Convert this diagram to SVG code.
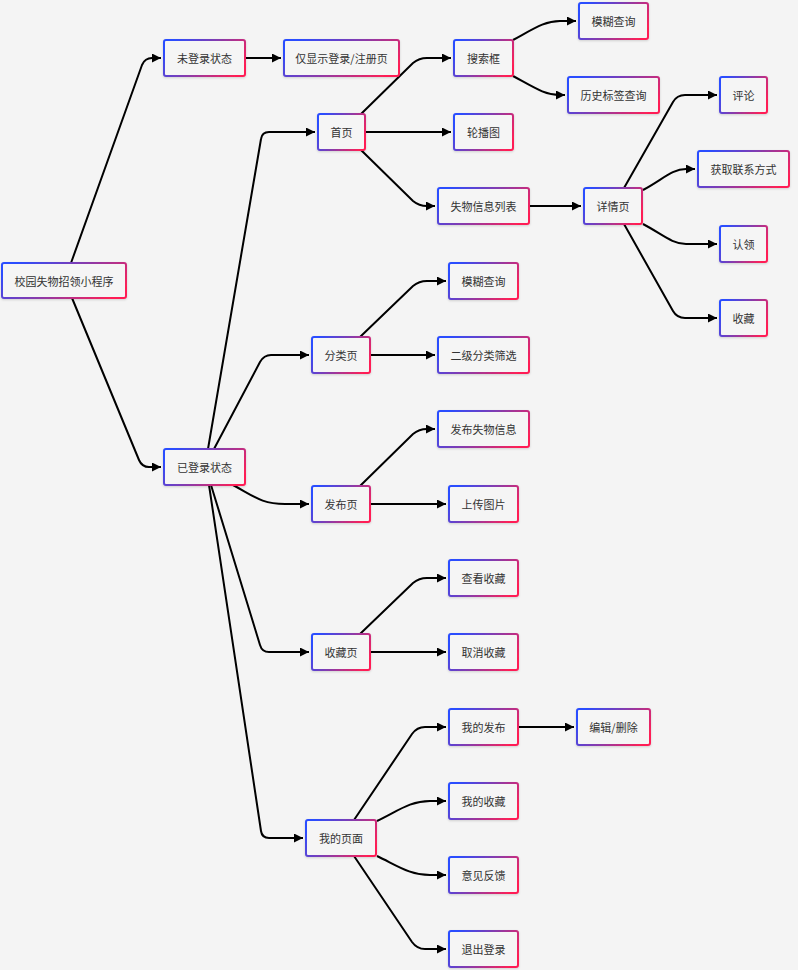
<svg xmlns="http://www.w3.org/2000/svg" width="798" height="970" viewBox="0 0 798 970">
<defs>
<linearGradient id="bd" x1="0" y1="0.3" x2="1" y2="0.7">
<stop offset="0" stop-color="#2a4dff"/>
<stop offset="0.5" stop-color="#8b3aa9"/>
<stop offset="1" stop-color="#ff1f55"/>
</linearGradient>
<filter id="sh" x="-10%" y="-20%" width="120%" height="150%">
<feDropShadow dx="0" dy="1" stdDeviation="1" flood-color="#000" flood-opacity="0.15"/>
</filter>
<marker id="ah" viewBox="0 0 10 10" refX="10" refY="5" markerWidth="9" markerHeight="9" markerUnits="userSpaceOnUse" orient="auto">
<path d="M0,0 L10,5 L0,10 z" fill="#000"/>
</marker>
<style>
.n rect{fill:#f5f5f5;stroke:url(#bd);stroke-width:2;filter:url(#sh)}
.n text{font-family:"Noto Sans CJK SC","Noto Sans",sans-serif;font-size:11px;fill:#333;text-anchor:middle;dominant-baseline:central}
.e path{fill:none;stroke:#000;stroke-width:2;marker-end:url(#ah)}
</style>
</defs>
<rect x="0" y="0" width="798" height="970" fill="#f4f4f4"/>
<g id="edges" class="e">
<path d="M71,263 L142,65 Q145,58 152,58 L161,58"/>
<path d="M72,298 L139,460 Q142,467 149,467 L161,467"/>
<path d="M245,58 L281,58"/>
<path d="M208,449 L261,139 Q262,132 269,132 L315,132"/>
<path d="M214,449 L260,362 Q264,355 271,355 L309,355"/>
<path d="M233,485 C255,497 262,504 285,504 L309,504"/>
<path d="M211,485 L260,645 Q262,652 269,652 L309,652"/>
<path d="M209,485 L261,831 Q262,838 269,838 L303,838"/>
<path d="M361,114 L413,63 Q419,58 427,58 L451,58"/>
<path d="M365,132 L451,132"/>
<path d="M361,150 L413,201 Q419,206 427,206 L435,206"/>
<path d="M513,40 C535,28 545,21 560,21 L576,21"/>
<path d="M513,76 C535,88 545,95 560,95 L565,95"/>
<path d="M529,206 L581,206"/>
<path d="M624,188 L673,102 Q677,95 685,95 L717,95"/>
<path d="M643,190 C662,180 672,169 686,169 L695,169"/>
<path d="M643,224 C662,234 672,244 686,244 L717,244"/>
<path d="M624,224 L673,311 Q677,318 685,318 L717,318"/>
<path d="M360,337 L413,286 Q419,281 427,281 L446,281"/>
<path d="M370,355 L435,355"/>
<path d="M360,486 L413,434 Q419,429 427,429 L435,429"/>
<path d="M370,504 L446,504"/>
<path d="M360,634 L413,583 Q419,578 427,578 L446,578"/>
<path d="M370,652 L446,652"/>
<path d="M354,820 L412,734 Q417,727 425,727 L446,727"/>
<path d="M377,821 C398,811 410,801 430,801 L446,801"/>
<path d="M377,856 C398,866 410,875 430,875 L446,875"/>
<path d="M354,856 L412,942 Q417,949 425,949 L446,949"/>
<path d="M518,727 L574,727"/>
</g>
<g id="n0" class="n"><rect x="2" y="263" width="124" height="35" rx="2"/><text x="64" y="280.5">校园失物招领小程序</text></g>
<g id="n1" class="n"><rect x="164" y="40" width="81" height="36" rx="2"/><text x="204.5" y="58">未登录状态</text></g>
<g id="n2" class="n"><rect x="284" y="40" width="115" height="36" rx="2"/><text x="341.5" y="58">仅显示登录/注册页</text></g>
<g id="n3" class="n"><rect x="164" y="449" width="81" height="36" rx="2"/><text x="204.5" y="467">已登录状态</text></g>
<g id="n4" class="n"><rect x="318" y="114" width="47" height="36" rx="2"/><text x="341.5" y="132">首页</text></g>
<g id="n5" class="n"><rect x="312" y="337" width="58" height="36" rx="2"/><text x="341" y="355">分类页</text></g>
<g id="n6" class="n"><rect x="312" y="486" width="58" height="36" rx="2"/><text x="341" y="504">发布页</text></g>
<g id="n7" class="n"><rect x="312" y="634" width="58" height="36" rx="2"/><text x="341" y="652">收藏页</text></g>
<g id="n8" class="n"><rect x="306" y="820" width="70" height="36" rx="2"/><text x="341" y="838">我的页面</text></g>
<g id="n9" class="n"><rect x="454" y="40" width="59" height="36" rx="2"/><text x="483.5" y="58">搜索框</text></g>
<g id="n10" class="n"><rect x="454" y="114" width="59" height="36" rx="2"/><text x="483.5" y="132">轮播图</text></g>
<g id="n11" class="n"><rect x="438" y="188" width="91" height="36" rx="2"/><text x="483.5" y="206">失物信息列表</text></g>
<g id="n12" class="n"><rect x="579" y="3" width="69" height="36" rx="2"/><text x="613.5" y="21">模糊查询</text></g>
<g id="n13" class="n"><rect x="568" y="77" width="91" height="36" rx="2"/><text x="613.5" y="95">历史标签查询</text></g>
<g id="n14" class="n"><rect x="584" y="188" width="58" height="36" rx="2"/><text x="613" y="206">详情页</text></g>
<g id="n15" class="n"><rect x="720" y="77" width="47" height="36" rx="2"/><text x="743.5" y="95">评论</text></g>
<g id="n16" class="n"><rect x="698" y="151" width="91" height="36" rx="2"/><text x="743.5" y="169">获取联系方式</text></g>
<g id="n17" class="n"><rect x="720" y="226" width="47" height="36" rx="2"/><text x="743.5" y="244">认领</text></g>
<g id="n18" class="n"><rect x="720" y="300" width="47" height="36" rx="2"/><text x="743.5" y="318">收藏</text></g>
<g id="n19" class="n"><rect x="449" y="263" width="69" height="36" rx="2"/><text x="483.5" y="281">模糊查询</text></g>
<g id="n20" class="n"><rect x="438" y="337" width="91" height="36" rx="2"/><text x="483.5" y="355">二级分类筛选</text></g>
<g id="n21" class="n"><rect x="438" y="411" width="91" height="36" rx="2"/><text x="483.5" y="429">发布失物信息</text></g>
<g id="n22" class="n"><rect x="449" y="486" width="69" height="36" rx="2"/><text x="483.5" y="504">上传图片</text></g>
<g id="n23" class="n"><rect x="449" y="560" width="69" height="36" rx="2"/><text x="483.5" y="578">查看收藏</text></g>
<g id="n24" class="n"><rect x="449" y="634" width="69" height="36" rx="2"/><text x="483.5" y="652">取消收藏</text></g>
<g id="n25" class="n"><rect x="449" y="709" width="69" height="36" rx="2"/><text x="483.5" y="727">我的发布</text></g>
<g id="n26" class="n"><rect x="577" y="709" width="73" height="36" rx="2"/><text x="613.5" y="727">编辑/删除</text></g>
<g id="n27" class="n"><rect x="449" y="783" width="69" height="36" rx="2"/><text x="483.5" y="801">我的收藏</text></g>
<g id="n28" class="n"><rect x="449" y="857" width="69" height="36" rx="2"/><text x="483.5" y="875">意见反馈</text></g>
<g id="n29" class="n"><rect x="449" y="931" width="69" height="36" rx="2"/><text x="483.5" y="949">退出登录</text></g>
</svg>
